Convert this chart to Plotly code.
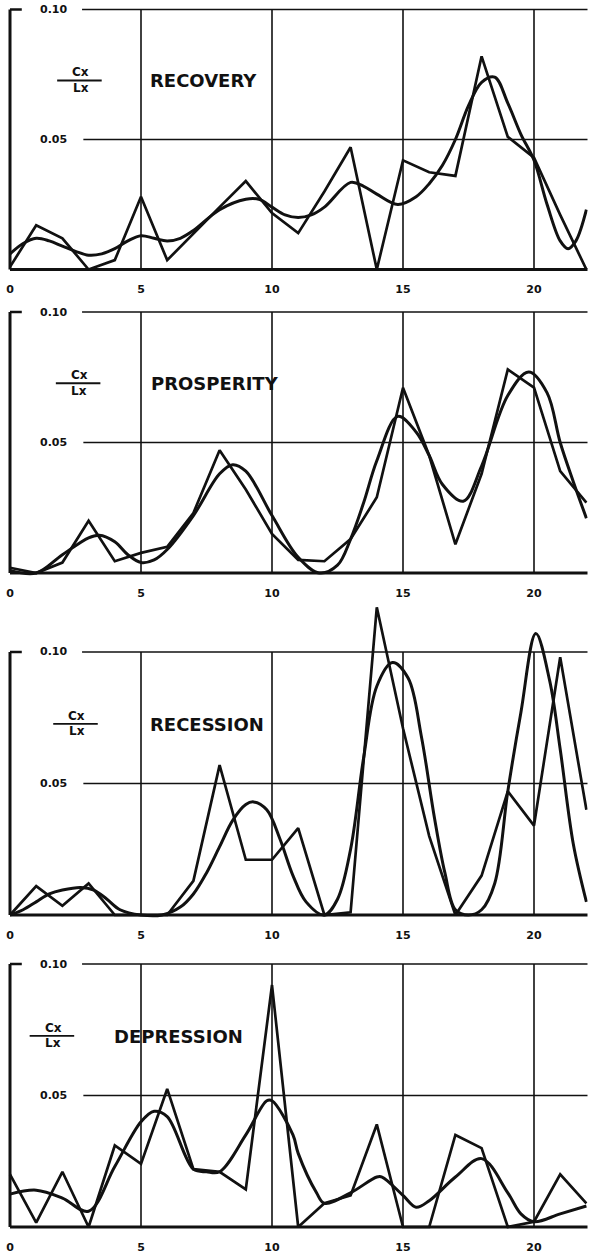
import plotly.graph_objects as go

# ---- data (Cx/Lx against x) ----
x_int = list(range(23))
tick_vals = [0, 5, 10, 15, 20]
grid_x = [5, 10, 15, 20]
panel_names = ["RECOVERY", "PROSPERITY", "RECESSION", "DEPRESSION"]

recovery_raw = [0.001, 0.017, 0.012, 0.0, 0.0036, 0.028, 0.0036, 0.014, 0.024, 0.034, 0.0217, 0.014,
                0.030, 0.047, 0.0, 0.042, 0.0374, 0.036, 0.082, 0.051, 0.043, 0.021, 0.0]
recovery_smooth_x = [0, 0.5, 1, 1.5, 2, 2.5, 3, 3.5, 4, 4.5, 5, 5.5, 6, 6.5, 7, 8, 9, 9.5, 10, 10.5, 11,
                     11.5, 12, 13, 13.5, 14, 14.8, 15.5, 16, 16.5, 17, 17.5, 18, 18.5, 19, 19.5, 20,
                     20.5, 21, 21.3, 21.6, 22]
recovery_smooth_y = [0.006, 0.010, 0.012, 0.011, 0.009, 0.007, 0.0055, 0.006, 0.008, 0.011, 0.013,
                     0.012, 0.011, 0.012, 0.015, 0.023, 0.027, 0.027, 0.024, 0.021, 0.020, 0.021,
                     0.024, 0.0335, 0.032, 0.029, 0.025, 0.028, 0.033, 0.040, 0.050, 0.063, 0.072,
                     0.074, 0.064, 0.052, 0.042, 0.025, 0.011, 0.008, 0.011, 0.023]

prosperity_raw = [0.002, 0.0, 0.004, 0.020, 0.0045, 0.0077, 0.010, 0.023, 0.047, 0.032, 0.015, 0.005,
                  0.0045, 0.013, 0.029, 0.071, 0.045, 0.011, 0.038, 0.078, 0.071, 0.039, 0.027]
prosperity_smooth_x = [0, 1, 2, 3, 3.4, 4, 4.5, 5, 5.5, 6, 7, 8, 8.5, 9, 10, 11, 11.8, 12.5, 13, 13.5,
                       14, 14.8, 15.5, 16, 16.5, 17.3, 18, 19, 19.8, 20.5, 21, 21.5, 22]
prosperity_smooth_y = [0.001, 0.0, 0.007, 0.0135, 0.0145, 0.012, 0.007, 0.004, 0.005, 0.009, 0.022,
                       0.038, 0.0415, 0.039, 0.022, 0.006, 0.0, 0.003, 0.013, 0.027, 0.043, 0.060,
                       0.054, 0.045, 0.034, 0.0275, 0.041, 0.068, 0.077, 0.069, 0.050, 0.035, 0.021]

recession_raw = [0.0, 0.011, 0.0035, 0.012, 0.0, 0.0, 0.0, 0.013, 0.057, 0.021, 0.021, 0.033, 0.0,
                 0.001, 0.117, 0.071, 0.030, 0.0, 0.015, 0.047, 0.034, 0.098, 0.040]
recession_smooth_x = [0, 0.5, 1, 1.5, 2, 2.7, 3.2, 3.7, 4.2, 5, 5.8, 6.5, 7, 7.5, 8, 8.5, 9, 9.3, 9.8,
                      10.3, 10.8, 11.3, 12, 12.5, 13, 13.5, 14, 14.6, 15.2, 15.7, 16.2, 16.6, 17,
                      17.5, 18, 18.5, 19, 19.5, 20.07, 20.6, 21, 21.5, 22]
recession_smooth_y = [0.0, 0.002, 0.005, 0.008, 0.0095, 0.0105, 0.0095, 0.006, 0.002, 0.0, 0.0, 0.003,
                      0.008, 0.016, 0.026, 0.036, 0.042, 0.043, 0.040, 0.029, 0.015, 0.005, 0.0,
                      0.006, 0.025, 0.060, 0.087, 0.096, 0.090, 0.068, 0.037, 0.016, 0.002, 0.0,
                      0.002, 0.012, 0.047, 0.077, 0.107, 0.089, 0.063, 0.027, 0.005]

depression_raw = [0.020, 0.0017, 0.021, 0.0, 0.031, 0.024, 0.0525, 0.022, 0.021, 0.0143, 0.092, 0.0,
                  0.009, 0.012, 0.039, 0.0, 0.0, 0.035, 0.030, 0.0, 0.002, 0.020, 0.009]
depression_smooth_x = [0, 1, 2, 3, 4, 5, 5.5, 6, 7, 7.5, 8, 9, 9.8, 10, 10.8, 11, 11.7, 12, 13, 14,
                       14.2, 15, 15.5, 16, 17, 18, 19, 19.5, 20, 21, 22]
depression_smooth_y = [0.0125, 0.014, 0.011, 0.006, 0.023, 0.040, 0.044, 0.042, 0.022, 0.021, 0.021,
                       0.035, 0.048, 0.048, 0.035, 0.028, 0.013, 0.009, 0.013, 0.019, 0.019, 0.012,
                       0.0075, 0.010, 0.019, 0.026, 0.013, 0.005, 0.002, 0.005, 0.008]

raw_series = [recovery_raw, prosperity_raw, recession_raw, depression_raw]
smooth_series = [(recovery_smooth_x, recovery_smooth_y), (prosperity_smooth_x, prosperity_smooth_y),
                 (recession_smooth_x, recession_smooth_y), (depression_smooth_x, depression_smooth_y)]

# ---- layout geometry (pixels of the 589x1260 page) ----
W, H = 589, 1260
base_px = [269.5, 573, 915, 1227]     # y pixel of value 0
top_px = [9.5, 312, 652, 964]         # y pixel of value 0.10
y_hi = [0.103, 0.103, 0.122, 0.103]
y_lo = -0.003
frac_x = [2.7, 2.65, 2.55, 1.65]
title_x = [5.25, 5.3, 5.26, 3.9]
x_lo, x_hi = -0.1, 22.05
px_unit = 26.2
x0_px = 10

ink = "#111111"
FONT = "DejaVu Sans"

fig = go.Figure()
layout = dict(width=W, height=H, margin=dict(l=0, r=0, t=0, b=0),
              paper_bgcolor="white", plot_bgcolor="white", showlegend=False)
shapes, annotations = [], []

xdom = [(x0_px + x_lo * px_unit) / W, min(1.0, (x0_px + x_hi * px_unit) / W)]

for i in range(4):
    n = "" if i == 0 else str(i + 1)
    xr, yr = "x" + n, "y" + n
    per = (base_px[i] - top_px[i]) / 0.10
    bot = base_px[i] - y_lo * per
    top = base_px[i] - y_hi[i] * per
    ydom = [1 - bot / H, 1 - top / H]

    layout["xaxis" + n] = dict(domain=xdom, range=[x_lo, x_hi], anchor=yr, showgrid=False,
                               zeroline=False, showline=False, ticks="",
                               tickvals=tick_vals, ticktext=[str(v) for v in tick_vals],
                               tickfont=dict(family=FONT, size=11, color=ink, weight="bold"),
                               ticklabelstandoff=4)
    layout["yaxis" + n] = dict(domain=ydom, range=[y_lo, y_hi[i]], anchor=xr, showgrid=False,
                               zeroline=False, showline=False, showticklabels=False, ticks="")

    fig.add_trace(go.Scatter(x=x_int, y=raw_series[i], mode="lines", xaxis=xr, yaxis=yr,
                             line=dict(color=ink, width=2.7), hoverinfo="skip"))
    sx, sy = smooth_series[i]
    fig.add_trace(go.Scatter(x=sx, y=sy, mode="lines", xaxis=xr, yaxis=yr,
                             line=dict(color=ink, width=3, shape="spline", smoothing=1.0),
                             hoverinfo="skip"))

    def seg(a, b, c, d, w):
        shapes.append(dict(type="line", xref=xr, yref=yr, x0=a, y0=b, x1=c, y1=d,
                           line=dict(color=ink, width=w), layer="below"))

    seg(0, 0, x_hi, 0, 3)             # base line
    seg(0, 0, 0, 0.10, 3)             # left bracket
    seg(0, 0.10, 0.45, 0.10, 2.5)
    seg(2.75, 0.10, x_hi, 0.10, 1.6)
    seg(2.8, 0.05, x_hi, 0.05, 1.6)
    for g in grid_x:
        seg(g, 0, g, 0.10, 1.6)
    # fraction bar of Cx / Lx
    seg(frac_x[i] - 0.9, 0.0727, frac_x[i] + 0.8, 0.0727, 1.8)

    for val, lab in [(0.10, "0.10"), (0.05, "0.05")]:
        annotations.append(dict(x=1.65, y=val, xref=xr, yref=yr, text=lab, showarrow=False,
                                font=dict(family=FONT, size=11, color=ink, weight="bold")))
    annotations.append(dict(x=frac_x[i], y=0.0728, xref=xr, yref=yr, text="Cx", showarrow=False,
                            yanchor="bottom", yshift=-1,
                            font=dict(family=FONT, size=12, color=ink, weight="bold")))
    annotations.append(dict(x=frac_x[i], y=0.0726, xref=xr, yref=yr, text="Lx", showarrow=False,
                            yanchor="top", yshift=2,
                            font=dict(family=FONT, size=12, color=ink, weight="bold")))
    annotations.append(dict(x=title_x[i], y=0.0725, xref=xr, yref=yr, text=panel_names[i],
                            showarrow=False, xanchor="left",
                            font=dict(family=FONT, size=18, color=ink, weight="bold")))

layout["shapes"] = shapes
layout["annotations"] = annotations
fig.update_layout(**layout)

# the page body has a default 8px margin; drop it so the figure fills the window
fig.write_html("out.html", config={"displayModeBar": False},
               post_script="document.body.style.margin='0px';")
